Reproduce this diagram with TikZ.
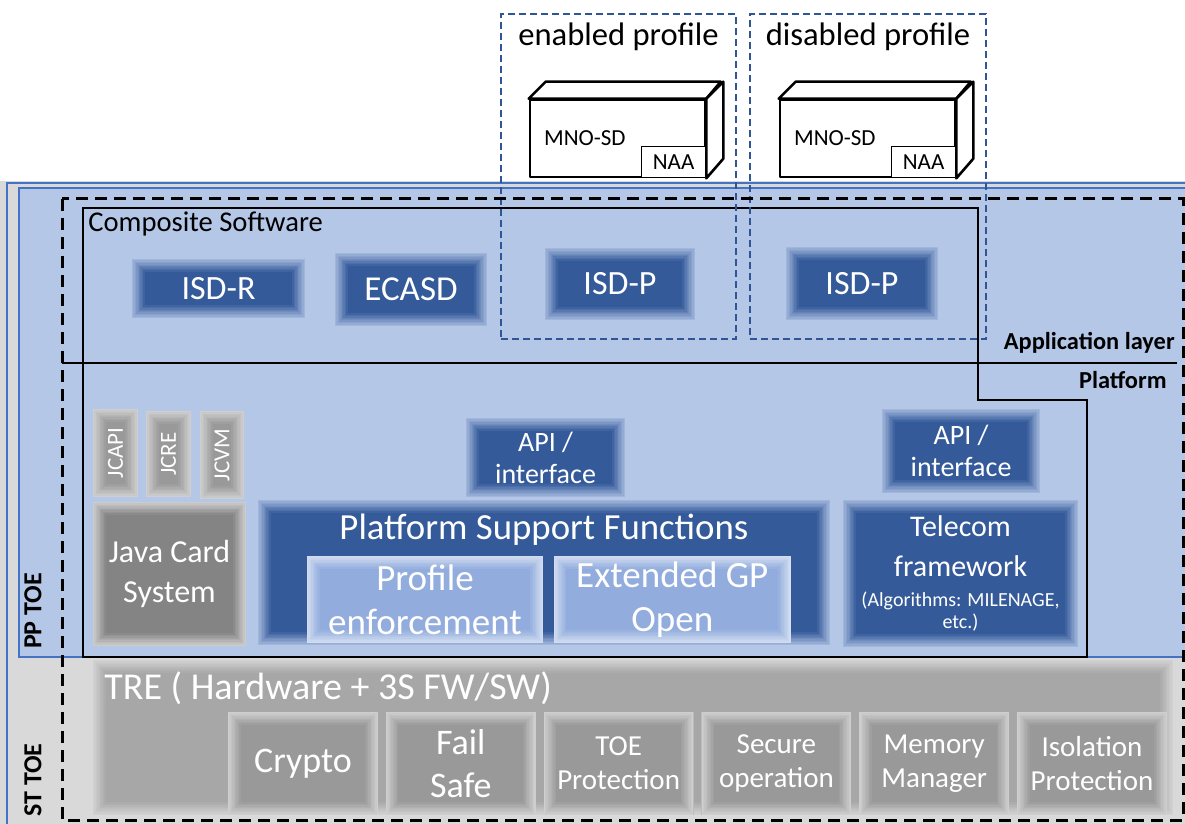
\documentclass[tikz,border=0pt]{standalone}
\usepackage{fontspec}
\setmainfont{Carlito}
\usetikzlibrary{positioning}
\definecolor{bgblue}{HTML}{B4C7E7}
\definecolor{darkblue}{HTML}{2F5597}
\definecolor{midblue}{HTML}{8FAADC}
\definecolor{edgeblue}{HTML}{4472C4}
\definecolor{bggray}{HTML}{D9D9D9}
\definecolor{tregray}{HTML}{A5A5A5}
\definecolor{boxgray}{HTML}{969696}
\definecolor{jcgray}{HTML}{808080}

\tikzset{
  glow/.style 2 args={path picture={
      \foreach \k in {0,...,9}{
        \pgfmathtruncatemacro\pc{85-\k*9}
        \fill[#1!\pc!#2] ([shift={(\k*0.7pt,\k*0.7pt)}]path picture bounding box.south west)
          rectangle ([shift={(-\k*0.7pt,-\k*0.7pt)}]path picture bounding box.north east);}}},
  blk/.style={fill=darkblue, glow={bgblue}{darkblue}, text=white, align=center, inner sep=0pt},
  pale/.style={fill=midblue, glow={white!70!midblue}{midblue}, text=white, align=center, inner sep=0pt},
  gry/.style={fill=#1, glow={bggray}{#1}, text=white, align=center, inner sep=0pt},
  prof/.style={draw=darkblue, line width=1.3pt, dash pattern=on 3.5pt off 2pt, inner sep=0pt},
  cube/.style={draw, fill=white, line width=1.3pt, line join=round, inner sep=0pt},
  lyr/.style={font=\bfseries\fontsize{12.2}{14}\selectfont, inner sep=0pt},
  vtxt/.style={rotate=90, text=white, inner sep=0pt, font=\fontsize{11.5}{13}\selectfont},
}

\begin{document}
\begin{tikzpicture}[x=0.5pt, y=-0.5pt]
\useasboundingbox (0,0) rectangle (1185,824);

% background bands
\fill[bggray] (0,181) rectangle (1185,824);
\draw[edgeblue, line width=.8pt] (7,183) rectangle (1200,840);
\draw[edgeblue, fill=bgblue, line width=.8pt] (19,188) rectangle (1200,657);

\node[lyr, rotate=90, font=\bfseries\fontsize{13}{15}\selectfont] (pp) at (33,611) {PP TOE};
\node[lyr, rotate=90, font=\bfseries\fontsize{13}{15}\selectfont] (st) at (33,780) {ST TOE};

% composite software / platform outline
\draw[line width=1pt] (83,208) -- (978,208) -- (978,400) -- (1087,400) -- (1087,657) -- (83,657) -- cycle;
\draw[line width=1.2pt] (62,363) -- (1177,363);
\node[anchor=west, inner sep=0pt, font=\fontsize{14.3}{16}\selectfont] (comp) at (88,224) {Composite Software};
\node[lyr, anchor=east] (app) at (1175,343) {Application layer};
\node[lyr, anchor=east] (plat) at (1167,380) {Platform};

% application layer
\node[blk, font=\fontsize{17}{19}\selectfont, minimum width=86.5pt, minimum height=29.5pt] (isdr) at (218.5,288.5) {ISD-R};
\node[blk, font=\fontsize{17.5}{19}\selectfont, minimum width=76pt, minimum height=36.5pt] (ecasd) at (411,289.5) {ECASD};
\node[blk, font=\fontsize{17}{19}\selectfont, minimum width=75pt, minimum height=36pt] (isdpA) at (620,284) {ISD-P};
\node[blk, font=\fontsize{17}{19}\selectfont, minimum width=76pt, minimum height=36.5pt] (isdpB) at (862,283.5) {ISD-P};

% profiles
\node[prof, minimum width=117.5pt, minimum height=162.5pt] (enA) at (618.5,176.5) {};
\node[prof, minimum width=118pt, minimum height=162.5pt] (disA) at (868,176.5) {};
\node[inner sep=0pt, font=\fontsize{16.3}{18}\selectfont, below=5pt of enA.north] (enT) {enabled profile};
\node[inner sep=0pt, font=\fontsize{16.3}{18}\selectfont, below=5pt of disA.north] (disT) {disabled profile};

\node[cube, minimum width=87.5pt, minimum height=38.5pt] (mnoA) at (617.5,138.5) {};
\draw[cube] (mnoA.north west) -- ++(17,-17) -- ++(175,0) -- (mnoA.north east) -- cycle;
\draw[cube] (mnoA.north east) -- ++(17,-17) -- ++(0,77) -- (mnoA.south east) -- cycle;
\node[cube, line width=.7pt, minimum width=32pt, minimum height=15.5pt, anchor=south east,
      font=\fontsize{11.5}{13}\selectfont] (naaA) at (mnoA.south east) {NAA};
\node[anchor=west, inner sep=0pt, font=\fontsize{11.5}{13}\selectfont] (sdA) at ([xshift=7.5pt]mnoA.west) {MNO-SD};

\node[cube, minimum width=87.5pt, minimum height=38.5pt] (mnoB) at (867.5,138.5) {};
\draw[cube] (mnoB.north west) -- ++(17,-17) -- ++(175,0) -- (mnoB.north east) -- cycle;
\draw[cube] (mnoB.north east) -- ++(17,-17) -- ++(0,77) -- (mnoB.south east) -- cycle;
\node[cube, line width=.7pt, minimum width=32pt, minimum height=15.5pt, anchor=south east,
      font=\fontsize{11.5}{13}\selectfont] (naaB) at (mnoB.south east) {NAA};
\node[anchor=west, inner sep=0pt, font=\fontsize{11.5}{13}\selectfont] (sdB) at ([xshift=7.5pt]mnoB.west) {MNO-SD};

% platform
\node[gry=boxgray, minimum width=22.5pt, minimum height=44pt] (jcapi) at (115.5,453) {};
\node[gry=boxgray, minimum width=22.5pt, minimum height=43pt] (jcre) at (168.5,454) {};
\node[gry=boxgray, minimum width=22pt, minimum height=44pt] (jcvm) at (222,455) {};
\node[vtxt] (jcapiT) at (jcapi) {JCAPI};
\node[vtxt] (jcreT) at (jcre) {JCRE};
\node[vtxt] (jcvmT) at (jcvm) {JCVM};
\node[gry=jcgray, font=\fontsize{16}{20}\selectfont, minimum width=76.5pt, minimum height=72pt] (jcs) at (169.5,574) {Java Card\\System};

\node[blk, font=\fontsize{14}{16}\selectfont, minimum width=79.5pt, minimum height=39.5pt] (apiA) at (545.5,457.5) {API /\\interface};
\node[blk, minimum width=286pt, minimum height=72.5pt] (psf) at (544,572.5) {};
\node[text=white, inner sep=0pt, font=\fontsize{18.4}{20}\selectfont] (psfT) at (544,530) {Platform Support Functions};
\node[pale, font=\fontsize{18.5}{22}\selectfont, minimum width=118pt, minimum height=43.5pt] (penf) at (425,599.5) {Profile\\enforcement};
\node[pale, font=\fontsize{18.5}{22}\selectfont, minimum width=118.5pt, minimum height=43.5pt, right=5pt of penf] (gpo) {Extended GP\\Open};

\node[blk, font=\fontsize{14}{16}\selectfont, minimum width=79pt, minimum height=42pt] (apiB) at (961,451) {API /\\interface};
\node[blk, font=\fontsize{15}{20}\selectfont, minimum width=117.5pt, minimum height=73.5pt] (tel) at (960.5,573.5)
  {Telecom\\framework\\[-5pt]{\fontsize{10}{11}\selectfont (Algorithms: MILENAGE,}\\[-9pt]{\fontsize{10}{11}\selectfont etc.)}};

% TRE
\node[gry=tregray, minimum width=540pt, minimum height=77.5pt] (tre) at (633,737.5) {};
\node[anchor=west, text=white, inner sep=0pt, font=\fontsize{19}{21}\selectfont] (treT) at (104,688) {TRE ( Hardware + 3S FW/SW)};
\node[gry=boxgray, font=\fontsize{18}{21.5}\selectfont, minimum width=75pt, minimum height=51.5pt] (crypto) at (303,763.5) {Crypto};
\node[gry=boxgray, font=\fontsize{18}{21.5}\selectfont, minimum width=75pt, minimum height=51.5pt, right=3.5pt of crypto] (fsafe) {Fail\\Safe};
\node[gry=boxgray, font=\fontsize{14.5}{17}\selectfont, minimum width=75pt, minimum height=51.5pt, right=3.5pt of fsafe] (toep) {TOE\\Protection};
\node[gry=boxgray, font=\fontsize{14.5}{17}\selectfont, minimum width=75pt, minimum height=51.5pt, right=3.5pt of toep] (secop) {Secure\\operation};
\node[gry=boxgray, font=\fontsize{14.5}{17}\selectfont, minimum width=75pt, minimum height=51.5pt, right=3.5pt of secop] (memm) {Memory\\Manager};
\node[gry=boxgray, font=\fontsize{14.5}{17}\selectfont, minimum width=75pt, minimum height=51.5pt, right=3.5pt of memm] (isop) {Isolation\\Protection};

% TOE boundary
\draw[line width=1.5pt, dash pattern=on 6pt off 3.5pt] (62,199) rectangle (1183,820);
\end{tikzpicture}
\end{document}
